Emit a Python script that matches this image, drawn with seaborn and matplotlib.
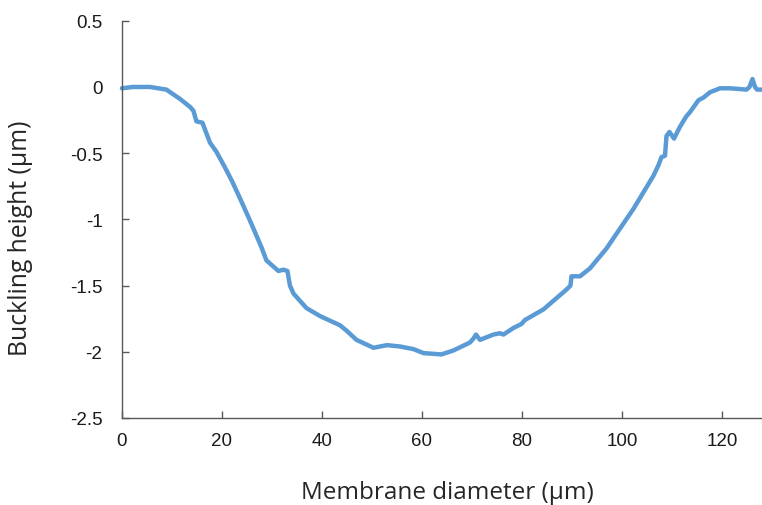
import matplotlib
matplotlib.use("Agg")
import matplotlib.pyplot as plt
import seaborn as sns
import pandas as pd

# Membrane buckling profile (diameter in µm, height in µm)
diameter = [0.0, 2.2, 5.6, 8.9, 11.6, 13.6, 14.3, 14.9, 16.1, 17.6, 18.9,
            20.5, 22.0, 23.6, 25.5, 27.9, 28.9, 31.3, 32.3, 33.1, 33.6,
            34.3, 36.9, 39.6, 43.6, 44.9, 46.9, 50.3, 53.0, 55.6, 58.3,
            60.3, 63.9, 66.3, 69.6, 70.3, 70.8, 71.6, 74.3, 75.6, 76.3,
            78.3, 79.9, 80.6, 84.3, 88.9, 89.7, 89.9, 91.6, 93.6, 96.9,
            99.6, 102.3, 106.3, 107.3, 107.9, 108.6, 108.9, 109.5, 110.4,
            111.6, 112.9, 113.6, 115.3, 116.3, 117.6, 119.6, 121.6, 124.9,
            125.5, 126.1, 126.6, 127.0, 128.0]
height = [-0.01, 0.0, 0.0, -0.02, -0.09, -0.15, -0.18, -0.26, -0.27, -0.42,
          -0.49, -0.60, -0.71, -0.84, -1.00, -1.21, -1.31, -1.39, -1.38,
          -1.39, -1.50, -1.56, -1.67, -1.73, -1.80, -1.84, -1.91, -1.97,
          -1.95, -1.96, -1.98, -2.01, -2.02, -1.99, -1.93, -1.90, -1.87,
          -1.91, -1.87, -1.86, -1.87, -1.82, -1.79, -1.76, -1.68, -1.53,
          -1.50, -1.43, -1.43, -1.37, -1.22, -1.07, -0.92, -0.67, -0.59,
          -0.53, -0.52, -0.37, -0.34, -0.39, -0.30, -0.22, -0.19, -0.10,
          -0.08, -0.04, -0.01, -0.01, -0.02, 0.0, 0.06, 0.0, -0.02, -0.02]

x_ticks = [0, 20, 40, 60, 80, 100, 120]
y_ticks = [-2.5, -2, -1.5, -1, -0.5, 0, 0.5]
y_tick_labels = ["-2.5", "-2", "-1.5", "-1", "-0.5", "0", "0.5"]

df = pd.DataFrame({"diameter": diameter, "height": height})

sns.set_theme(style="white")
plt.rcParams["font.family"] = ["Liberation Sans", "DejaVu Sans"]

fig = plt.figure(figsize=(7.62, 5.06), dpi=100)
ax = fig.add_axes([0.160, 0.172, 0.840, 0.785])

sns.lineplot(data=df, x="diameter", y="height", ax=ax, color="#5B9BD5",
             linewidth=3.2, solid_joinstyle="round", solid_capstyle="round",
             sort=False, clip_on=False)

ax.set_xlim(0, 128)
ax.set_ylim(-2.5, 0.5)
ax.set_xticks(x_ticks)
ax.set_xticklabels([str(t) for t in x_ticks])
ax.set_yticks(y_ticks)
ax.set_yticklabels(y_tick_labels)

spine_color = "#595959"
for side in ["top", "right"]:
    ax.spines[side].set_visible(False)
for side in ["left", "bottom"]:
    ax.spines[side].set_color(spine_color)
    ax.spines[side].set_linewidth(1.0)

ax.tick_params(axis="both", direction="in", length=5, width=1.0,
               color=spine_color, labelsize=13.5, labelcolor="#1a1a1a")
ax.tick_params(axis="x", pad=10)
ax.tick_params(axis="y", pad=14)
ax.tick_params(left=True, bottom=True)

label_font = ["Open Sans", "DejaVu Sans"]
ax.set_xlabel("Membrane diameter (µm)", fontsize=17.5, family=label_font,
              color="#262626")
ax.set_ylabel("Buckling height (µm)", fontsize=17.8, family=label_font,
              color="#262626")
ax.xaxis.set_label_coords(0.509, -0.157)
ax.yaxis.set_label_coords(-0.139, 0.455)

fig.savefig("out.png", dpi=100)
